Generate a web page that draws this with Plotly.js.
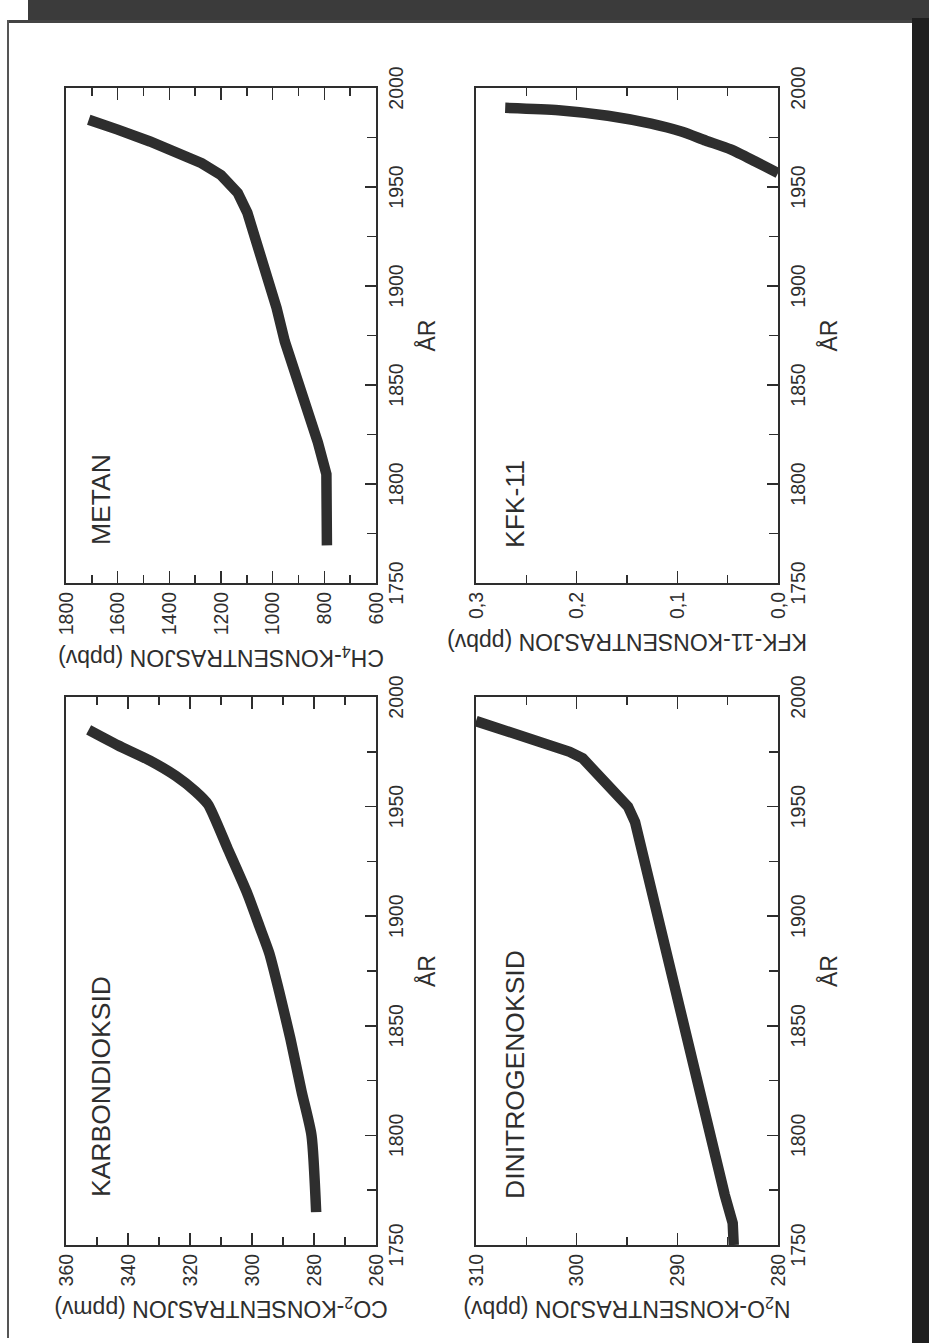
<!DOCTYPE html>
<html>
<head>
<meta charset="utf-8">
<script src="https://cdn.plot.ly/plotly-3.0.1.min.js"></script>
<style>
  html, body { margin:0; padding:0; background:#ffffff; }
  body { width:929px; height:1343px; position:relative; overflow:hidden; }
  #chart { position:absolute; left:0; top:0; width:1343px; height:929px;
           transform-origin:0 0; transform:translate(0px,1343px) rotate(-90deg); }
  .deco { position:absolute; z-index:5; pointer-events:none; }
</style>
</head>
<body>
<div id="chart"></div>
<div class="deco" style="left:28px;top:0px;width:901px;height:20px;background:#3b3b3b;"></div>
<div class="deco" style="left:7px;top:20px;width:905px;height:3px;background:#444;"></div>
<div class="deco" style="left:7px;top:20px;width:2px;height:1318px;background:#555;"></div>
<div class="deco" style="left:912px;top:18px;width:17px;height:1325px;background:#1f1f1f;"></div>
<script>
// ---- data ----
const yearTicks = [1750, 1800, 1850, 1900, 1950, 2000];
const yearMinor = [1775, 1825, 1875, 1925, 1975];

const co2Years = [1765, 1800, 1820, 1844, 1866, 1883, 1895, 1911, 1931, 1951, 1957, 1964, 1971, 1978, 1985];
const co2Vals  = [279.3, 280.8, 284.0, 287.6, 291.3, 294.4, 297.5, 301.7, 307.9, 314.2, 318.3, 324.6, 332.9, 343.3, 352.7];
const co2Ticks = [260, 280, 300, 320, 340, 360];
const co2Minor = [270, 290, 310, 330, 350];

const ch4Years = [1769, 1805, 1821, 1838, 1855, 1872, 1889, 1905, 1922, 1937, 1947, 1956, 1962, 1968, 1973, 1979, 1984];
const ch4Vals  = [790, 792, 825, 870, 910, 953, 985, 1022, 1060, 1098, 1135, 1200, 1275, 1375, 1475, 1600, 1712];
const ch4Ticks = [600, 800, 1000, 1200, 1400, 1600, 1800];
const ch4Minor = [700, 900, 1100, 1300, 1500, 1700];

const n2oYears = [1750, 1760, 1773, 1943, 1950, 1972, 1975, 1989];
const n2oVals  = [284.4, 284.5, 285.3, 294.2, 294.9, 299.4, 300.7, 310.0];
const n2oTicks = [280, 290, 300, 310];
const n2oMinor = [285, 295, 305];

const kfkYears = [1957, 1963, 1969, 1973.5, 1978, 1982, 1986, 1988.8, 1990];
const kfkVals  = [0.0, 0.023, 0.047, 0.072, 0.096, 0.126, 0.169, 0.218, 0.271];
const kfkTicks = [0.0, 0.1, 0.2, 0.3];
const kfkTickText = ['0,0', '0,1', '0,2', '0,3'];
const kfkMinor = [0.05, 0.15, 0.25];

const panelNames = ['KARBONDIOKSID', 'METAN', 'DINITROGENOKSID', 'KFK-11'];
const yTitles = ['CO<sub>2</sub>-KONSENTRASJON (ppmv)', 'CH<sub>4</sub>-KONSENTRASJON (ppbv)',
                 'N<sub>2</sub>O-KONSENTRASJON (ppbv)', 'KFK-11-KONSENTRASJON (ppbv)'];
const xTitle = 'ÅR';

// ---- styling ----
const ink = '#2e2e2e';
const FONT = '"Liberation Sans", Arial, Helvetica, sans-serif';
const lineStyle = {color: ink, width: 10.5};
const smoothLine = {color: ink, width: 10.5, shape: 'spline', smoothing: 0.6};

function xAxis(domain, anchor) {
  return {
    domain: domain, anchor: anchor, range: [1750, 2000],
    tickmode: 'array', tickvals: yearTicks,
    ticks: 'inside', ticklen: 11, tickwidth: 1.6, tickcolor: ink,
    minor: {tickmode: 'array', tickvals: yearMinor, ticks: 'inside', ticklen: 9, tickwidth: 1.6, tickcolor: ink, showgrid: false},
    showline: true, linecolor: ink, linewidth: 2, mirror: true,
    showgrid: false, zeroline: false, automargin: false,
    ticklabelstandoff: 2,
    tickfont: {family: FONT, size: 19.5, color: ink},
    title: {text: xTitle, standoff: 12, font: {family: FONT, size: 23, color: ink}}
  };
}
function yAxis(domain, anchor, range, tickvals, minorvals, title, ticktext) {
  const ax = {
    domain: domain, anchor: anchor, range: range,
    tickmode: 'array', tickvals: tickvals,
    ticks: 'inside', ticklen: 12, tickwidth: 1.6, tickcolor: ink,
    minor: {tickmode: 'array', tickvals: minorvals, ticks: 'inside', ticklen: 8, tickwidth: 1.6, tickcolor: ink, showgrid: false},
    showline: true, linecolor: ink, linewidth: 2, mirror: 'ticks',
    showgrid: false, zeroline: false, automargin: false,
    ticklabelstandoff: 3,
    tickfont: {family: FONT, size: 19.5, color: ink},
    title: {text: title, standoff: 8, font: {family: FONT, size: 23, color: ink}}
  };
  if (ticktext) ax.ticktext = ticktext;
  return ax;
}

const W = 1343, H = 929;
const xL = [98 / W, 646 / W], xR = [760 / W, 1255 / W];
const yT = [1 - 376 / H, 1 - 66 / H], yB = [1 - 778 / H, 1 - 476 / H];

const traces = [
  {x: co2Years, y: co2Vals, xaxis: 'x', yaxis: 'y', mode: 'lines', line: smoothLine, hoverinfo: 'skip'},
  {x: ch4Years, y: ch4Vals, xaxis: 'x2', yaxis: 'y2', mode: 'lines', line: lineStyle, hoverinfo: 'skip'},
  {x: n2oYears, y: n2oVals, xaxis: 'x3', yaxis: 'y3', mode: 'lines', line: lineStyle, hoverinfo: 'skip'},
  {x: kfkYears, y: kfkVals, xaxis: 'x4', yaxis: 'y4', mode: 'lines', line: smoothLine, hoverinfo: 'skip'}
];

const labelPos = [
  {xref: 'x domain', yref: 'y domain', x: 0.084, y: 0.887},
  {xref: 'x2 domain', yref: 'y2 domain', x: 0.072, y: 0.888},
  {xref: 'x3 domain', yref: 'y3 domain', x: 0.080, y: 0.872},
  {xref: 'x4 domain', yref: 'y4 domain', x: 0.066, y: 0.872}
];
const annotations = panelNames.map((t, i) => Object.assign({
  text: t, showarrow: false, xanchor: 'left', yanchor: 'middle',
  font: {family: FONT, size: 26.5, color: ink}
}, labelPos[i]));

const layout = {
  width: W, height: H,
  margin: {l: 0, r: 0, t: 0, b: 0},
  paper_bgcolor: '#ffffff', plot_bgcolor: '#ffffff',
  showlegend: false,
  xaxis: xAxis(xL, 'y'),
  yaxis: yAxis(yT, 'x', [260, 360], co2Ticks, co2Minor, yTitles[0]),
  xaxis2: xAxis(xR, 'y2'),
  yaxis2: yAxis(yT, 'x2', [600, 1800], ch4Ticks, ch4Minor, yTitles[1]),
  xaxis3: xAxis(xL, 'y3'),
  yaxis3: yAxis(yB, 'x3', [280, 310], n2oTicks, n2oMinor, yTitles[2]),
  xaxis4: xAxis(xR, 'y4'),
  yaxis4: yAxis(yB, 'x4', [0, 0.3], kfkTicks, kfkMinor, yTitles[3], kfkTickText),
  annotations: annotations
};

Plotly.newPlot('chart', traces, layout, {staticPlot: true, displayModeBar: false});
</script>
</body>
</html>
